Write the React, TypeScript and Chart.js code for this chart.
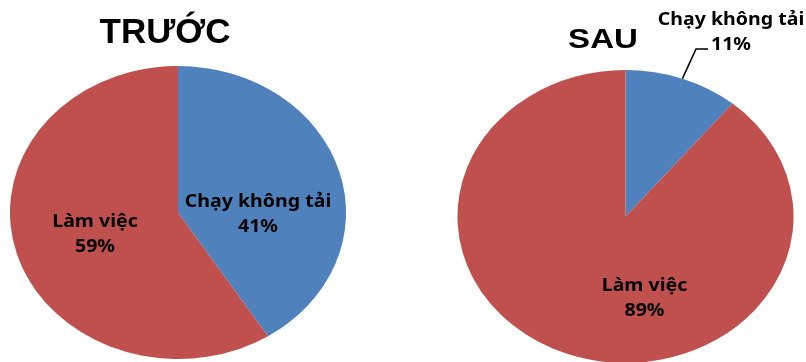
import React, { useEffect, useRef } from "react";
import { Chart, registerables } from "chart.js";

Chart.register(...registerables);

// ---- data ----
const categories = ["Chạy không tải", "Làm việc"];
const beforeValues = [41, 59];
const afterValues = [11, 89];
const chartTitles = ["TRƯỚC", "SAU"];
const sliceColors = ["#4F81BD", "#C0504D"];

// ---- layout / style (no data here) ----
const LABEL_FONT = "bold 17px 'Noto Sans', 'DejaVu Sans', sans-serif";
const LINE_H = 25;

type LabelLayout = { dx: number; dy: number; leader?: [number, number][] };
type PieLayout = {
  left: number;
  width: number;
  padding: { top: number; bottom: number; left: number; right: number };
  radius: number;
  sx: number;
  textSx: number;
  title: { dx: number; baseline: number; font: string; sx: number };
  labels: LabelLayout[];
};

const layouts: PieLayout[] = [
  {
    left: 0,
    width: 403,
    padding: { top: 66, bottom: 3, left: 31.5, right: 78.5 },
    radius: 146.5,
    sx: 1.147,
    textSx: 1.15,
    title: { dx: -13, baseline: 43, font: "bold 35px 'Liberation Sans', Arial, sans-serif", sx: 1 },
    labels: [
      { dx: 80, dy: -5.5 },
      { dx: -83, dy: 14.5 },
    ],
  },
  {
    left: 403,
    width: 403,
    padding: { top: 71, bottom: 0, left: 76, right: 34 },
    radius: 146.5,
    sx: 1.147,
    textSx: 1.15,
    title: { dx: -22.5, baseline: 48, font: "bold 28.5px 'Liberation Sans', Arial, sans-serif", sx: 1.16 },
    labels: [
      { dx: 105.5, dy: -191.5, leader: [[70.5, -167.5], [82.5, -167.5]] },
      { dx: 19, dy: 74.5 },
    ],
  },
];

function drawText(ctx: CanvasRenderingContext2D, text: string, x: number, y: number, font: string, sx: number) {
  ctx.save();
  ctx.translate(x, y);
  ctx.scale(sx, 1);
  ctx.font = font;
  ctx.fillStyle = "#000000";
  ctx.textAlign = "center";
  ctx.textBaseline = "alphabetic";
  ctx.fillText(text, 0, 0);
  ctx.restore();
}

function makeDecorPlugin(layout: PieLayout, title: string) {
  return {
    id: "pieDecor",
    beforeDatasetsDraw(chart: any) {
      const arc = chart.getDatasetMeta(0).data[0] as any;
      const ctx = chart.ctx as CanvasRenderingContext2D;
      ctx.save();
      ctx.translate(arc.x, arc.y);
      ctx.scale(layout.sx, 1);
      ctx.translate(-arc.x, -arc.y);
    },
    afterDatasetsDraw(chart: any) {
      chart.ctx.restore();
    },
    afterDraw(chart: any) {
      const ctx = chart.ctx as CanvasRenderingContext2D;
      const meta = chart.getDatasetMeta(0);
      const values = chart.data.datasets[0].data as number[];
      const labels = chart.data.labels as string[];
      const first = meta.data[0] as any;
      const cx = first.x;
      const cy = first.y;
      drawText(ctx, title, cx + layout.title.dx, layout.title.baseline, layout.title.font, layout.title.sx);
      meta.data.forEach((el: any, i: number) => {
        const lay = layout.labels[i];
        const { startAngle, endAngle, outerRadius } = el.getProps(["startAngle", "endAngle", "outerRadius"], true);
        const x = cx + lay.dx;
        const y = cy + lay.dy;
        drawText(ctx, labels[i], x, y, LABEL_FONT, layout.textSx);
        drawText(ctx, `${values[i]}%`, x, y + LINE_H, LABEL_FONT, layout.textSx);
        if (lay.leader) {
          const mid = (startAngle + endAngle) / 2;
          const ex = cx + Math.cos(mid) * outerRadius * layout.sx;
          const ey = cy + Math.sin(mid) * outerRadius;
          ctx.save();
          ctx.strokeStyle = "#000000";
          ctx.lineWidth = 1.6;
          ctx.beginPath();
          ctx.moveTo(ex, ey);
          lay.leader.forEach(([px, py]) => ctx.lineTo(cx + px, cy + py));
          ctx.stroke();
          ctx.restore();
        }
      });
    },
  };
}

function PieCanvas({ values, title, layout }: { values: number[]; title: string; layout: PieLayout }) {
  const ref = useRef<HTMLCanvasElement | null>(null);
  useEffect(() => {
    if (!ref.current) return;
    const chart = new Chart(ref.current, {
      type: "pie",
      data: {
        labels: categories,
        datasets: [
          {
            data: values,
            backgroundColor: sliceColors,
            borderWidth: 0,
          },
        ],
      },
      options: {
        responsive: false,
        animation: false,
        radius: layout.radius,
        layout: { padding: layout.padding },
        events: [],
        plugins: {
          legend: { display: false },
          tooltip: { enabled: false },
          title: { display: false },
        },
      } as any,
      plugins: [makeDecorPlugin(layout, title)],
    });
    return () => chart.destroy();
  }, [values, title, layout]);
  return (
    <canvas
      ref={ref}
      width={layout.width}
      height={362}
      style={{ position: "absolute", left: layout.left, top: 0, width: layout.width, height: 362, display: "block" }}
    />
  );
}

export default function App() {
  return (
    <div style={{ position: "absolute", left: 0, top: 0, width: 806, height: 362, overflow: "hidden", background: "#ffffff" }}>
      <PieCanvas values={beforeValues} title={chartTitles[0]} layout={layouts[0]} />
      <PieCanvas values={afterValues} title={chartTitles[1]} layout={layouts[1]} />
    </div>
  );
}
